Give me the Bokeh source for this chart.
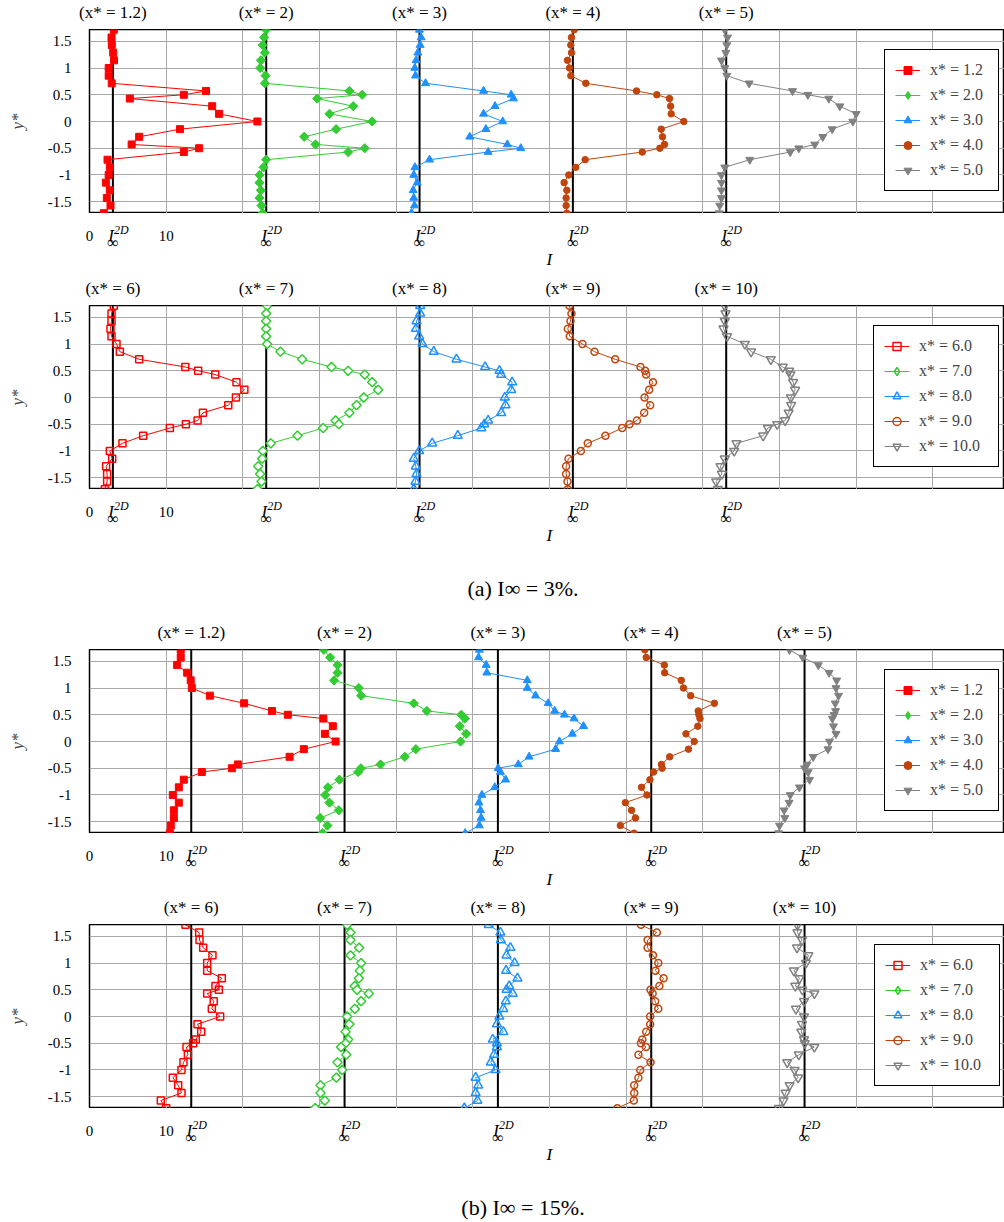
import math
from bokeh.plotting import figure
from bokeh.models import (FixedTicker, PrintfTickFormatter, Label, Legend,
                          LegendItem, Span, Range1d)
from bokeh.layouts import column
from bokeh.embed import file_html
from bokeh.resources import INLINE

# ---------------- data ----------------
# wall-normal positions y* (top to bottom)
Y = [1.714, 1.571, 1.429, 1.286, 1.143, 1.0, 0.857, 0.714, 0.571, 0.5, 0.429,
     0.286, 0.143, 0.0, -0.143, -0.286, -0.429, -0.5, -0.571, -0.714, -0.857,
     -1.0, -1.143, -1.286, -1.429, -1.571, -1.714]

OFFSETS = [0, 20, 40, 60, 80]          # horizontal shift of each profile
I2D_3 = 3.05                           # I_inf^2D, case I_inf = 3 %
I2D_15 = 13.27                         # I_inf^2D, case I_inf = 15 %
XTICKS = [0, 10]
XGRID = [10, 20, 30, 40, 50, 60, 70, 80, 90, 100, 110]
YTICKS = [-1.5, -1, -0.5, 0, 0.5, 1, 1.5]

STATIONS_A = ["1.2", "2", "3", "4", "5"]
STATIONS_B = ["6", "7", "8", "9", "10"]
LEGEND_A = ["x* = 1.2", "x* = 2.0", "x* = 3.0", "x* = 4.0", "x* = 5.0"]
LEGEND_B = ["x* = 6.0", "x* = 7.0", "x* = 8.0", "x* = 9.0", "x* = 10.0"]
CAPTION_A = "(a) I\u221e = 3%."
CAPTION_B = "(b) I\u221e = 15%."

# (a) I_inf = 3 %, x* = 1.2 ... 5
A_X12 = [3.17, 2.87, 2.91, 3.09, 3.2, 2.5, 2.5, 2.9, 15.2, 12.3, 5.26, 16.0, 16.9,
         21.9, 11.8, 6.48, 5.5, 14.3, 12.3, 2.35, 2.65, 2.5, 2.13, 2.65, 2.26, 2.74, 1.87]
A_X2 = [3.04, 2.78, 2.6, 2.87, 2.35, 2.26, 2.96, 2.87, 13.9, 15.57, 9.7, 14.4, 11.3,
        16.87, 12.17, 8.0, 9.48, 15.9, 13.74, 3.04, 2.7, 2.17, 2.17, 2.35, 2.17, 2.43, 2.6]
A_X3 = [3.04, 3.26, 3.13, 2.83, 2.6, 2.43, 2.52, 3.83, 11.4, 15.0, 15.3, 12.9, 11.4,
        13.9, 11.7, 9.6, 14.5, 16.25, 12.0, 4.35, 2.45, 2.3, 2.74, 2.22, 2.3, 2.39, 2.0]
A_X4 = [3.22, 2.87, 2.78, 2.87, 2.35, 2.6, 2.78, 4.74, 11.35, 14.0, 15.65, 15.8, 15.87,
        17.52, 14.57, 14.74, 15.0, 14.4, 12.1, 4.65, 3.43, 2.52, 1.91, 2.26, 2.17, 2.17, 2.26]
A_X5 = [2.87, 3.22, 3.13, 3.0, 2.43, 2.87, 3.13, 6.04, 11.7, 13.7, 16.43, 17.87, 20.0,
        19.57, 16.87, 15.65, 14.6, 12.52, 11.4, 6.13, 2.87, 2.43, 2.43, 2.43, 2.43, 2.2, 2.13]
# (a) I_inf = 3 %, x* = 6 ... 10
A_X6 = [3.17, 2.87, 2.87, 2.74, 2.87, 3.52, 3.96, 6.48, 12.5, 14.17, 16.4, 19.17, 20.2,
        19.1, 18.1, 14.8, 14.1, 12.57, 10.48, 7.0, 4.3, 2.65, 2.96, 2.17, 2.3, 2.3, 2.0]
A_X7 = [3.17, 3.04, 3.04, 3.04, 3.04, 3.17, 4.9, 7.74, 11.57, 13.74, 15.9, 16.87, 17.65,
        15.78, 14.83, 13.9, 12.09, 12.52, 10.48, 7.13, 3.65, 2.6, 2.52, 2.0, 2.26, 2.43, 1.91]
A_X8 = [3.13, 3.13, 2.65, 2.57, 3.0, 3.43, 4.9, 7.87, 11.6, 13.48, 13.7, 15.13, 15.0,
        14.17, 14.26, 13.7, 12.0, 11.5, 11.1, 8.04, 4.7, 3.0, 2.3, 2.57, 2.65, 2.52, 2.3]
A_X9 = [2.6, 2.87, 2.74, 2.39, 2.65, 4.3, 5.87, 8.57, 11.87, 12.48, 12.6, 13.5, 13.0,
        12.4, 13.13, 12.35, 11.4, 10.43, 9.48, 7.3, 5.0, 4.09, 2.48, 2.17, 2.17, 2.35, 2.39]
A_X10 = [2.87, 2.96, 2.87, 2.7, 3.17, 5.48, 6.3, 8.87, 10.43, 11.26, 11.43, 11.78, 12.04,
         11.48, 11.52, 11.2, 10.74, 9.7, 8.48, 7.87, 4.39, 4.09, 2.87, 2.3, 2.48, 1.74, 1.96]
# (b) I_inf = 15 %, x* = 1.2 ... 5
B_X12 = [11.9, 11.9, 11.43, 12.74, 13.2, 13.35, 15.7, 20.17, 23.8, 25.87, 30.5, 31.74, 30.7,
         32.1, 27.96, 26.1, 19.35, 18.57, 14.65, 12.3, 11.65, 10.87, 11.65, 11.0, 11.0, 10.6, 10.48]
B_X2 = [10.57, 11.4, 12.35, 12.35, 11.9, 15.13, 15.43, 22.3, 24.0, 28.5, 28.96, 28.3, 29.13,
        28.4, 22.57, 21.13, 17.96, 15.4, 15.04, 12.6, 11.1, 10.74, 11.3, 12.52, 10.09, 11.04, 10.4]
B_X3 = [10.85, 10.75, 11.74, 11.83, 17.1, 17.1, 18.18, 19.83, 20.68, 21.95, 23.2, 24.44, 22.98,
        21.3, 20.8, 17.34, 15.93, 13.3, 13.6, 14.28, 12.87, 11.18, 10.8, 11.0, 11.08, 10.85, 9.0]
B_X4 = [12.44, 12.62, 14.98, 15.02, 17.19, 17.47, 18.41, 21.51, 19.4, 19.49, 19.63, 19.35, 17.8,
        18.88, 18.13, 15.68, 14.6, 14.7, 13.57, 13.1, 12.0, 12.72, 9.9, 10.7, 11.21, 9.24, 11.03]
B_X5 = [11.3, 13.04, 15.06, 16.47, 17.46, 17.37, 17.7, 17.27, 17.32, 17.13, 16.9, 17.04, 17.37,
        16.52, 16.33, 14.4, 13.6, 13.27, 13.74, 13.93, 12.6, 11.4, 11.25, 10.6, 10.7, 10.0, 9.9]
# (b) I_inf = 15 %, x* = 6 ... 10
B_X6 = [12.52, 14.3, 14.35, 14.83, 16.04, 15.35, 15.35, 17.26, 16.43, 16.87, 15.35, 16.2, 15.96,
        17.04, 14.09, 14.57, 13.87, 13.52, 12.65, 12.83, 12.26, 12.0, 10.87, 11.57, 12.0, 9.3, 10.0]
B_X7 = [13.6, 14.04, 14.04, 15.17, 14.04, 15.43, 15.26, 15.13, 14.6, 14.9, 16.43, 15.43, 14.6,
        13.6, 13.9, 13.4, 13.74, 13.4, 12.8, 13.5, 12.35, 12.96, 12.2, 10.13, 10.13, 10.7, 9.43]
B_X8 = [12.08, 13.6, 13.65, 14.9, 14.39, 15.45, 14.34, 15.82, 14.75, 14.4, 15.2, 14.3, 13.97,
        13.46, 13.14, 13.97, 12.6, 13.14, 13.14, 12.77, 12.35, 12.95, 10.37, 10.7, 10.37, 10.6, 8.9]
B_X9 = [11.93, 14.0, 12.8, 12.8, 13.5, 14.19, 13.82, 14.88, 14.33, 13.18, 13.45, 13.78, 14.19,
        13.13, 13.13, 12.62, 12.11, 11.93, 12.58, 11.6, 13.18, 11.84, 11.6, 11.05, 11.05, 11.0, 8.84]
B_X10 = [12.34, 12.34, 12.94, 12.29, 13.77, 13.45, 11.87, 12.6, 12.06, 12.98, 14.55, 13.2, 12.15,
         13.2, 12.94, 12.84, 13.2, 13.3, 14.55, 12.52, 11.0, 11.97, 12.43, 11.32, 10.8, 10.53, 9.93]

# ---------------- styles ----------------
COLORS = ["#ff0000", "#33cc33", "#1e90ff", "#c0440c", "#808080"]
MARKERS = ["square", "diamond", "triangle", "circle", "inverted_triangle"]
SIZES_FILLED = [7, 6.5, 8, 6.5, 8]
SIZES_OPEN = [7, 6.5, 9, 7, 9]
FONT = "Liberation Serif"

LEFT = 89
X_MAX = 119.35
Y_MIN, Y_MAX = -1.72, 1.72
FRAME_W, FRAME_H = 915, 184
PPX = FRAME_W / X_MAX
X_PAGE0 = -LEFT / PPX          # data x at the page's left edge


def lab(p, x, y, text, size="16px", style="normal", align="center",
        baseline="alphabetic", x_offset=0):
    p.add_layout(Label(x=x, y=y, text=text, text_font=FONT, text_font_size=size,
                       text_font_style=style, text_align=align,
                       text_baseline=baseline, x_offset=x_offset,
                       text_color="black"))


def strip(h, below=None, above=None, caption=None):
    """Text band between panels; y is measured in px from the band's top."""
    s = figure(frame_width=LEFT + FRAME_W, frame_height=h,
               x_range=Range1d(X_PAGE0, X_MAX), y_range=Range1d(h, 0),
               min_border=0, min_border_left=0, min_border_right=0,
               min_border_top=0, min_border_bottom=0,
               x_axis_type=None, y_axis_type=None,
               toolbar_location=None, output_backend="svg")
    s.outline_line_color = None
    s.background_fill_color = "white"
    s.border_fill_color = "white"
    if below is not None:          # tick labels of the panel above the band
        i2d = below
        for xt in XTICKS:
            lab(s, xt, 22, str(xt), size="15px")
        for off in OFFSETS:
            xc = i2d + off
            lab(s, xc, 22, "I", size="17px", style="italic", align="right",
                x_offset=1)
            lab(s, xc, 16.5, "2D", size="12px", style="italic", align="left",
                x_offset=1)
            lab(s, xc, 29, "\u221e", size="16px", align="center")
        lab(s, X_MAX / 2 + 0.3, 46, "I", size="17px", style="italic")
    if caption is not None:
        lab(s, (522.5 - LEFT) / PPX, 98.5, caption, size="22px")
    if above is not None:          # station titles of the panel below the band
        i2d, stations = above
        for st, off in zip(stations, OFFSETS):
            lab(s, i2d + off, h - 17, "(x* = %s)" % st, size="17px",
                baseline="middle")
    return column(s, spacing=0)


def panel(profiles, legend_labels, i2d, filled, legend_left, label_width):
    p = figure(frame_width=FRAME_W, frame_height=FRAME_H,
               x_range=(0, X_MAX), y_range=(Y_MIN, Y_MAX),
               min_border_left=LEFT, min_border_right=0, min_border_top=0,
               min_border_bottom=0, x_axis_location=None,
               toolbar_location=None, output_backend="svg")
    p.background_fill_color = "white"
    p.border_fill_color = "white"
    p.outline_line_color = "black"
    p.outline_line_width = 1.5
    p.outline_line_alpha = 1.0

    ax = p.yaxis[0]
    ax.ticker = FixedTicker(ticks=YTICKS)
    ax.formatter = PrintfTickFormatter(format="%g")
    ax.major_label_text_font = FONT
    ax.major_label_text_font_size = "15px"
    ax.major_label_text_color = "black"
    ax.major_tick_line_color = None
    ax.minor_tick_line_color = None
    ax.axis_line_color = None
    ax.major_label_standoff = 12
    ax.axis_label = "y*"
    ax.axis_label_text_font = FONT
    ax.axis_label_text_font_size = "17px"
    ax.axis_label_text_font_style = "italic"
    ax.axis_label_standoff = 18

    p.xgrid.ticker = FixedTicker(ticks=XGRID)
    for g in (p.xgrid, p.ygrid):
        g.grid_line_color = "#a8a8a8"
        g.grid_line_width = 1
        g.grid_line_alpha = 1.0

    for off in OFFSETS:
        p.add_layout(Span(location=i2d + off, dimension="height",
                          line_color="black", line_width=2, level="underlay"))

    items = []
    for k, (vals, off) in enumerate(zip(profiles, OFFSETS)):
        xs = [v + off for v in vals]
        lr = p.line(xs, Y, line_color=COLORS[k], line_width=1)
        fill = COLORS[k] if filled else None
        lw = 1 if filled else 1.5
        size = SIZES_FILLED[k] if filled else SIZES_OPEN[k]
        if MARKERS[k] == "diamond":
            # legend glyph (a diamond) hidden under the square-shaped diamonds
            sr = p.scatter(xs, Y, marker="diamond", size=8, fill_color=fill,
                           line_color=COLORS[k], line_width=lw)
            p.scatter(xs, Y, marker="square", angle=math.pi / 4, size=size,
                      fill_color=COLORS[k] if filled else "white",
                      line_color=COLORS[k], line_width=lw)
        else:
            sr = p.scatter(xs, Y, marker=MARKERS[k], size=size,
                           fill_color=fill, line_color=COLORS[k],
                           line_width=lw)
        items.append(LegendItem(label=legend_labels[k], renderers=[lr, sr]))

    legend = Legend(items=items, location=(legend_left, 22), margin=0,
                    padding=10, spacing=5, glyph_width=25, glyph_height=20,
                    label_height=20, label_width=label_width, label_standoff=10,
                    label_text_font=FONT, label_text_font_size="16px",
                    border_line_color="black", border_line_width=1,
                    border_line_alpha=1.0, background_fill_alpha=1.0)
    p.add_layout(legend)
    return p


s0 = strip(29, above=(I2D_3, STATIONS_A))
p1 = panel([A_X12, A_X2, A_X3, A_X4, A_X5], LEGEND_A, I2D_3, True, 795, 58)
s1 = strip(92, below=I2D_3, above=(I2D_3, STATIONS_B))
p2 = panel([A_X6, A_X7, A_X8, A_X9, A_X10], LEGEND_B, I2D_3, False, 784, 69)
s2 = strip(160, below=I2D_3, caption=CAPTION_A, above=(I2D_15, STATIONS_A))
p3 = panel([B_X12, B_X2, B_X3, B_X4, B_X5], LEGEND_A, I2D_15, True, 795, 58)
s3 = strip(91, below=I2D_15, above=(I2D_15, STATIONS_B))
p4 = panel([B_X6, B_X7, B_X8, B_X9, B_X10], LEGEND_B, I2D_15, False, 785, 69)
s4 = strip(112, below=I2D_15, caption=CAPTION_B)

layout = column(s0, p1, s1, p2, s2, p3, s3, p4, s4, spacing=0)

with open("out.html", "w") as f:
    f.write(file_html(layout, INLINE))
